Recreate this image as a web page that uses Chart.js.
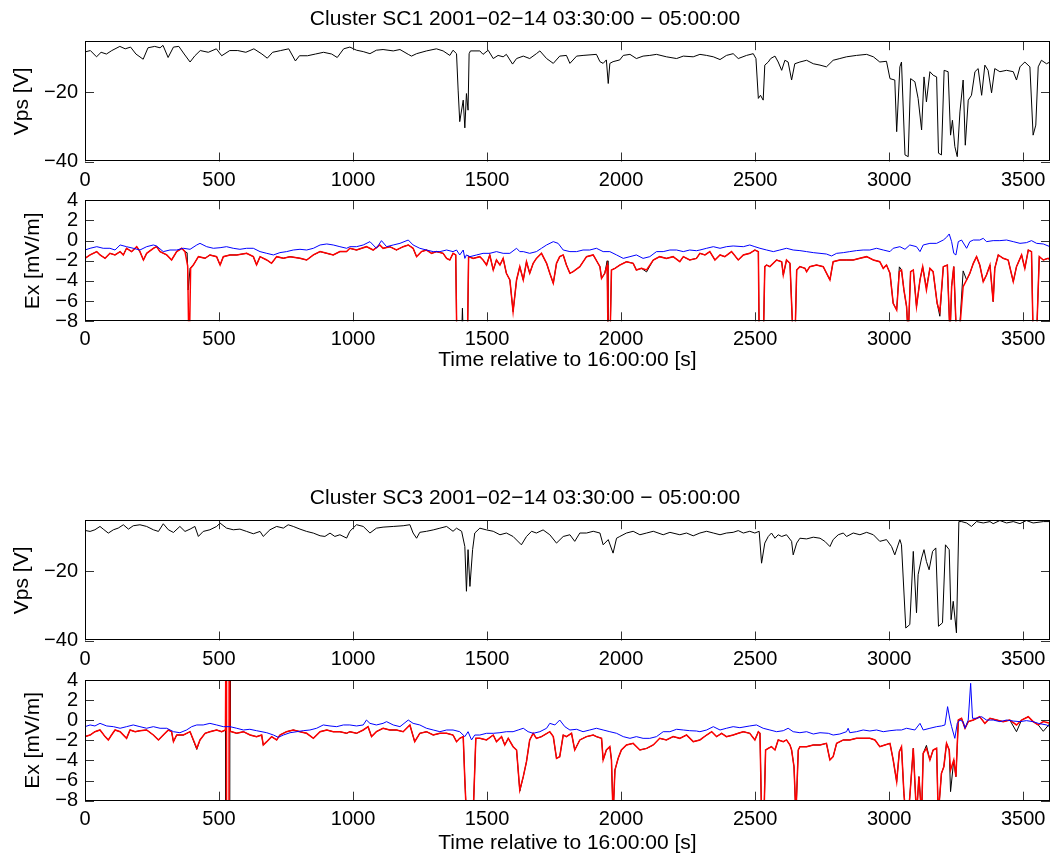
<!DOCTYPE html>
<html><head><meta charset="utf-8">
<script src="https://cdn.jsdelivr.net/npm/chart.js@4/dist/chart.umd.min.js"></script>
<style>
html,body{margin:0;padding:0;background:#fff;}
body{width:1052px;height:858px;position:relative;overflow:hidden;}
canvas{position:absolute;left:0;}
</style></head>
<body>
<canvas id="p1" width="1052" height="195" style="top:0px"></canvas>
<canvas id="p2" width="1052" height="190" style="top:190px"></canvas>
<canvas id="p3" width="1052" height="195" style="top:479px"></canvas>
<canvas id="p4" width="1052" height="188" style="top:670px"></canvas>
<script>
// ---------------- data ----------------
const titleSC1 = "Cluster SC1 2001\u221202\u221214 03:30:00 \u2212 05:00:00";
const titleSC3 = "Cluster SC3 2001\u221202\u221214 03:30:00 \u2212 05:00:00";
const xLabel = "Time relative to 16:00:00 [s]";
const vpsLabel = "Vps [V]";
const exLabel = "Ex [mV/m]";
const xTicks = [0, 500, 1000, 1500, 2000, 2500, 3000, 3500];
const vpsTicks = [-40, -20];
const exTicks = [-8, -6, -4, -2, 0, 2, 4];

// SC1 spacecraft potential [t, V]
const sc1Vps = [[0,-8.4],[20,-8.0],[43,-9.8],[60,-8.5],[80,-9.0],[100,-8.0],[130,-6.8],[150,-7.5],[170,-7.0],[190,-9.0],[217,-10.5],[235,-7.2],[260,-6.8],[280,-7.2],[291,-6.5],[310,-10.0],[330,-7.0],[350,-6.8],[370,-9.0],[392,-11.3],[410,-9.5],[430,-8.0],[460,-8.5],[490,-7.5],[510,-9.5],[540,-8.0],[570,-8.0],[600,-8.5],[630,-7.5],[660,-9.0],[680,-10.2],[700,-8.5],[730,-8.0],[760,-7.5],[785,-11.0],[800,-9.5],[830,-9.5],[860,-9.0],[890,-8.5],[920,-9.0],[941,-10.0],[965,-7.5],[988,-7.0],
[1013,-7.9],[1038,-8.3],[1063,-8.9],[1087,-7.9],[1112,-7.7],[1150,-8.1],[1175,-7.7],[1206,-9.1],[1218,-9.6],[1237,-8.9],[1274,-8.1],[1311,-7.5],[1336,-8.1],[1361,-9.4],[1373,-7.9],[1386,-8.9],[1392,-19.4],[1398,-28.5],[1411,-22.3],[1417,-30.3],[1423,-20.4],[1429,-25.2],[1433,-8.9],[1438,-8.1],[1473,-8.1],[1485,-9.1],[1504,-7.9],[1523,-10.3],[1541,-9.4],[1560,-9.8],[1572,-9.1],[1595,-11.9],[1610,-10.3],[1635,-9.6],[1659,-10.3],[1684,-8.9],[1697,-8.1],[1722,-10.3],[1747,-11.7],[1771,-9.6],[1796,-9.4],[1809,-11.7],[1834,-9.6],[1858,-9.4],[1908,-9.1],[1921,-11.2],[1933,-11.7],[1945,-10.7],[1952,-17.5],[1958,-11.7],[1970,-11.2],[1995,-10.7],[2008,-9.4],[2033,-9.1],[2057,-10.3],[2082,-9.6],[2107,-9.4],[2132,-9.1],[2169,-9.8],[2207,-10.3],[2232,-9.6],[2269,-9.8],[2294,-9.1],
[2319,-9.4],[2344,-9.8],[2369,-10.6],[2393,-9.4],[2418,-8.9],[2437,-10.3],[2468,-9.4],[2493,-8.9],[2503,-10.3],[2512,-21.8],[2520,-20.9],[2530,-22.3],[2536,-12.2],[2549,-11.3],[2558,-10.3],[2574,-9.6],[2586,-11.3],[2599,-13.7],[2611,-10.8],[2623,-11.3],[2636,-16.5],[2648,-11.8],[2667,-11.3],[2692,-10.8],[2717,-11.8],[2742,-12.2],[2766,-12.7],[2791,-10.8],[2816,-10.3],[2841,-9.8],[2878,-9.4],[2916,-9.1],[2941,-9.8],[2965,-11.3],[2990,-11.1],[3003,-16.1],[3021,-16.5],[3028,-31.4],[3040,-12.7],[3046,-11.3],[3059,-38.1],[3071,-38.6],[3080,-16.1],[3096,-17.0],[3108,-21.8],[3121,-30.9],[3130,-15.6],[3139,-22.8],[3152,-14.1],[3164,-15.1],[3177,-15.6],[3184,-37.6],[3195,-38.1],[3205,-13.7],[3220,-14.1],[3229,-32.4],[3236,-28.1],[3245,-35.7],[3254,-38.6],[3264,-25.7],[3276,-16.5],[3284,-35.3],[3295,-22.3],[3307,-20.9],[3320,-14.1],[3332,-13.2],[3345,-20.9],[3357,-12.2],[3369,-13.7],[3382,-20.2],[3394,-13.2],[3413,-14.1],[3438,-13.7],[3463,-14.1],[3475,-16.5],[3488,-12.7],[3506,-11.3],[3525,-12.7],[3537,-32.4],[3547,-29.5],[3556,-12.7],[3568,-10.8],[3587,-11.8],[3600,-11.3]];

// SC1 Ex: black, red, blue [t, mV/m]
const sc1ExRed = [[0,-1.75],[19,-1.42],[44,-1.09],[56,-1.42],[75,-1.75],[93,-1.26],[112,-1.42],[131,-1.09],[143,-1.42],[155,-0.76],[174,-1.09],[193,-0.6],[205,-1.09],[218,-1.92],[230,-1.26],[255,-0.76],[267,-0.6],[280,-1.09],[305,-1.42],[323,-1.92],[342,-1.09],[361,-0.76],[373,-1.09],[383,-2.5],[387,-9.5],[390,-9.5],[394,-2.75],[404,-2.42],[423,-1.59],[448,-1.75],[466,-1.42],[491,-1.59],[504,-2.42],[516,-1.59],[541,-1.42],[566,-1.42],[603,-1.26],[628,-1.59],[640,-2.4],[653,-1.59],[678,-1.92],[696,-2.25],[715,-1.59],[740,-1.75],[765,-1.59],[802,-1.75],[827,-1.92],[852,-1.42],[877,-1.09],[902,-1.26],[926,-1.42],[951,-1.09],[976,-1.09],
[988,-0.76],[1013,-0.93],[1032,-0.76],[1050,-0.6],[1075,-0.93],[1100,-0.43],[1112,-0.76],[1137,-0.6],[1162,-0.93],[1187,-0.6],[1206,-0.43],[1224,-0.76],[1237,-1.59],[1255,-1.09],[1274,-0.93],[1293,-1.26],[1311,-1.09],[1336,-1.26],[1349,-1.76],[1361,-1.92],[1373,-1.26],[1383,-1.42],[1387,-9.5],[1427,-9.5],[1431,-1.59],[1448,-1.76],[1473,-1.59],[1485,-1.92],[1498,-2.42],[1510,-1.42],[1523,-2.91],[1535,-1.92],[1548,-2.42],[1560,-1.76],[1572,-3.24],[1585,-3.9],[1597,-7.04],[1610,-3.9],[1622,-2.58],[1635,-3.9],[1647,-2.09],[1659,-3.24],[1672,-2.25],[1684,-1.76],[1703,-1.26],[1722,-2.25],[1734,-3.24],[1747,-4.23],[1759,-2.25],[1771,-1.59],[1784,-1.42],[1796,-2.42],[1809,-3.24],[1821,-3.08],[1846,-2.58],[1871,-1.59],[1896,-1.42],[1921,-2.58],[1927,-3.74],[1939,-3.24],[1948,-2.42],[1951,-9.5],[1959,-9.5],[1964,-2.91],[1977,-2.75],[1995,-2.42],[2020,-2.09],[2045,-2.25],[2057,-2.91],[2076,-2.75],[2095,-2.91],[2120,-1.92],[2144,-1.59],[2169,-1.76],[2194,-1.59],[2219,-2.09],[2232,-1.59],[2256,-1.92],[2281,-1.76],
[2294,-1.26],[2313,-1.42],[2331,-1.09],[2350,-1.92],[2369,-1.42],[2387,-1.59],[2412,-1.09],[2437,-1.92],[2456,-1.42],[2480,-1.26],[2499,-0.93],[2512,-1.09],[2515,-9.5],[2531,-9.5],[2536,-2.58],[2543,-2.42],[2555,-2.58],[2580,-1.92],[2599,-2.09],[2605,-3.41],[2617,-1.92],[2630,-2.25],[2641,-9.5],[2649,-9.5],[2655,-2.91],[2667,-2.58],[2686,-2.75],[2692,-3.08],[2704,-2.58],[2729,-2.42],[2754,-2.58],[2779,-3.9],[2791,-2.09],[2816,-1.92],[2841,-1.92],[2866,-1.92],[2891,-1.75],[2916,-1.59],[2941,-1.92],[2965,-2.09],[2978,-2.75],[2990,-2.42],[3003,-3.24],[3015,-6.22],[3028,-6.88],[3038,-3.08],[3046,-2.91],[3055,-4.89],[3065,-6.55],[3071,-9.5],[3080,-3.08],[3090,-2.91],[3102,-6.55],[3115,-3.9],[3125,-2.58],[3139,-4.89],[3152,-2.75],[3164,-3.08],[3179,-6.22],[3189,-7.04],[3202,-2.58],[3217,-2.42],[3227,-9.5],[3233,-4.56],[3241,-2.58],[3251,-9.5],[3261,-9.5],[3276,-4.56],[3289,-3.9],[3301,-3.24],[3314,-2.25],[3326,-1.59],[3338,-2.42],[3351,-4.07],[3363,-3.41],[3376,-2.42],[3388,-6.05],[3394,-2.75],[3407,-1.42],[3425,-1.75],[3444,-1.92],[3463,-4.07],[3475,-2.58],[3494,-1.42],[3506,-2.75],[3519,-0.93],[3531,-1.09],[3537,-9.5],[3550,-9.5],[3560,-1.59],[3575,-1.92],[3593,-1.75],[3600,-1.92]];

const sc1ExBlack = [[0,-1.75],[19,-1.42],[44,-1.09],[56,-1.42],[75,-1.75],[93,-1.26],[112,-1.42],[131,-1.09],[143,-1.42],[155,-0.76],[174,-1.09],[193,-0.6],[205,-1.09],[218,-1.92],[230,-1.26],[255,-0.76],[267,-0.6],[280,-1.09],[305,-1.42],[323,-1.92],[342,-1.09],[361,-0.76],[373,-1.09],[381,-1.2],[385,-4.9],[392,-2.75],[404,-2.42],[423,-1.59],[448,-1.75],[466,-1.42],[491,-1.59],[504,-2.42],[516,-1.59],[541,-1.42],[566,-1.42],[603,-1.26],[628,-1.59],[640,-2.4],[653,-1.59],[678,-1.92],[696,-2.25],[715,-1.59],[740,-1.75],[765,-1.59],[802,-1.75],[827,-1.92],[852,-1.42],[877,-1.09],[902,-1.26],[926,-1.42],[951,-1.09],[976,-1.09],
[988,-0.76],[1013,-0.93],[1032,-0.76],[1050,-0.6],[1075,-0.93],[1100,-0.43],[1112,-0.76],[1137,-0.6],[1162,-0.93],[1187,-0.6],[1206,-0.43],[1224,-0.76],[1237,-1.59],[1255,-1.09],[1274,-0.93],[1293,-1.26],[1311,-1.09],[1336,-1.26],[1349,-1.76],[1361,-1.92],[1373,-1.26],[1383,-1.42],[1387,-9.5],[1405,-9.5],[1408,-6.7],[1411,-9.5],[1427,-9.5],[1431,-1.59],[1448,-1.76],[1473,-1.59],[1485,-1.92],[1498,-2.42],[1510,-1.42],[1523,-2.91],[1535,-1.92],[1548,-2.42],[1560,-1.76],[1572,-3.24],[1585,-3.9],[1597,-7.04],[1610,-3.9],[1622,-2.58],[1635,-3.9],[1647,-2.09],[1659,-3.24],[1672,-2.25],[1684,-1.76],[1703,-1.26],[1722,-2.25],[1734,-3.24],[1747,-4.23],[1759,-2.25],[1771,-1.59],[1784,-1.42],[1796,-2.42],[1809,-3.24],[1821,-3.08],[1846,-2.58],[1871,-1.59],[1896,-1.42],[1921,-2.58],[1927,-3.74],[1939,-3.24],[1948,-2.0],[1951,-9.5],[1959,-9.5],[1964,-2.91],[1977,-2.75],[1995,-2.42],[2020,-2.09],[2045,-2.25],[2057,-2.91],[2076,-2.75],[2095,-3.1],[2120,-1.92],[2144,-1.59],[2169,-1.76],[2194,-1.59],[2219,-2.09],[2232,-1.59],[2256,-1.92],[2281,-1.76],
[2294,-1.26],[2313,-1.42],[2331,-1.09],[2350,-1.92],[2369,-1.42],[2387,-1.59],[2412,-1.09],[2437,-1.92],[2456,-1.42],[2480,-1.26],[2499,-0.93],[2512,-1.09],[2515,-9.5],[2531,-9.5],[2536,-2.58],[2543,-2.42],[2555,-2.58],[2580,-1.92],[2599,-2.09],[2605,-3.41],[2617,-1.92],[2630,-2.25],[2641,-9.5],[2649,-9.5],[2655,-2.91],[2667,-2.58],[2686,-2.75],[2692,-3.08],[2704,-2.58],[2729,-2.42],[2754,-2.58],[2779,-3.9],[2791,-2.09],[2816,-1.92],[2841,-1.92],[2866,-1.92],[2891,-1.75],[2916,-1.59],[2941,-1.92],[2965,-2.09],[2978,-2.75],[2990,-2.42],[3003,-3.24],[3015,-6.22],[3028,-6.88],[3038,-2.6],[3046,-2.91],[3055,-4.89],[3065,-6.55],[3071,-9.5],[3080,-3.08],[3090,-2.91],[3102,-6.55],[3115,-3.9],[3125,-2.58],[3139,-4.7],[3152,-2.75],[3164,-3.08],[3179,-6.22],[3189,-7.5],[3202,-2.58],[3217,-2.42],[3227,-9.5],[3233,-4.56],[3241,-2.58],[3251,-9.5],[3261,-9.5],[3276,-3.0],[3289,-3.9],[3301,-3.24],[3314,-2.25],[3326,-1.59],[3338,-2.42],[3351,-4.07],[3363,-3.41],[3376,-2.42],[3388,-6.05],[3394,-2.75],[3407,-1.42],[3425,-1.75],[3444,-1.92],[3463,-4.07],[3475,-2.58],[3494,-1.42],[3506,-2.75],[3519,-0.93],[3531,-1.09],[3537,-9.5],[3550,-9.5],[3560,-1.59],[3575,-1.92],[3593,-1.75],[3600,-1.92]];

const sc1ExBlue = [[0,-0.93],[19,-0.76],[44,-0.6],[68,-0.76],[93,-0.76],[112,-0.93],[131,-0.43],[155,-0.6],[180,-0.76],[205,-0.93],[230,-0.6],[255,-0.43],[267,-0.53],[292,-1.09],[317,-0.93],[342,-0.93],[367,-0.76],[392,-0.86],[417,-0.43],[429,-0.27],[454,-0.6],[479,-0.76],[504,-0.7],[528,-0.6],[553,-0.76],[578,-0.86],[603,-0.76],[628,-0.76],[653,-1.09],[678,-1.26],[703,-1.42],[727,-1.19],[752,-1.09],[777,-0.93],[802,-0.86],[827,-0.93],[852,-0.76],[877,-0.43],[902,-0.33],[926,-0.43],[951,-0.6],[976,-0.76],
[988,-0.6],[1013,-0.6],[1038,-0.43],[1063,-0.1],[1087,-0.76],[1106,0.0],[1125,-0.6],[1150,-0.43],[1175,-0.27],[1206,0.06],[1224,-0.43],[1249,-0.76],[1274,-0.93],[1299,-1.09],[1324,-1.09],[1349,-0.93],[1373,-1.09],[1386,-0.93],[1398,-1.42],[1411,-0.93],[1417,-1.76],[1423,-1.42],[1436,-1.59],[1461,-1.42],[1485,-1.26],[1510,-1.26],[1535,-1.09],[1560,-1.26],[1585,-1.26],[1610,-0.76],[1622,-1.09],[1635,-1.09],[1659,-1.26],[1684,-1.09],[1703,-0.76],[1722,-0.43],[1747,-0.1],[1765,-0.27],[1784,-0.93],[1809,-1.09],[1834,-1.09],[1858,-0.93],[1883,-0.93],[1908,-0.76],[1933,-1.09],[1958,-1.09],[1983,-1.42],[2008,-1.76],[2033,-1.59],[2057,-1.42],[2082,-1.76],[2107,-1.59],[2132,-1.09],[2157,-1.09],[2182,-0.93],[2207,-0.93],[2232,-1.09],[2256,-0.93],[2281,-1.0],
[2294,-0.93],[2319,-0.76],[2344,-0.6],[2369,-0.76],[2393,-0.6],[2418,-0.53],[2456,-0.6],[2480,-0.43],[2499,-0.6],[2518,-0.76],[2543,-0.93],[2568,-1.09],[2592,-0.93],[2617,-0.76],[2642,-0.93],[2667,-0.99],[2692,-1.09],[2717,-1.19],[2742,-1.26],[2766,-1.33],[2785,-1.52],[2804,-1.26],[2829,-1.19],[2853,-1.09],[2878,-0.99],[2903,-0.93],[2928,-0.93],[2953,-0.76],[2978,-0.93],[3003,-1.09],[3015,-0.76],[3040,-0.6],[3059,-0.86],[3077,-0.43],[3102,-0.6],[3115,-1.09],[3127,-0.43],[3152,-0.27],[3177,-0.27],[3202,0.06],[3214,0.33],[3224,0.66],[3233,-0.1],[3241,-1.26],[3249,-1.42],[3258,-0.1],[3270,0.06],[3289,-0.76],[3301,-0.1],[3314,0.06],[3338,0.06],[3351,0.23],[3363,-0.1],[3388,0.0],[3413,0.0],[3438,0.06],[3463,-0.1],[3488,-0.27],[3512,-0.2],[3531,0.0],[3550,-0.27],[3575,-0.33],[3600,-0.6]];

// SC3 spacecraft potential [t, V]
const sc3Vps = [[0,-8.25],[19,-8.54],[37,-8.06],[56,-7.1],[68,-7.87],[87,-9.02],[106,-8.06],[124,-7.58],[143,-6.62],[162,-7.87],[180,-6.9],[205,-6.62],[230,-7.1],[255,-8.06],[274,-8.54],[292,-6.33],[311,-8.06],[330,-8.83],[354,-7.1],[373,-8.54],[392,-7.87],[410,-7.1],[423,-9.98],[441,-8.54],[466,-8.06],[491,-7.1],[504,-6.14],[528,-7.58],[553,-8.06],[578,-7.87],[603,-8.54],[628,-9.21],[653,-8.54],[665,-9.98],[690,-8.06],[715,-7.1],[740,-7.58],[758,-6.62],[777,-7.1],[802,-7.87],[827,-8.54],[852,-9.02],[877,-9.79],[895,-9.98],[914,-9.02],[932,-9.98],[951,-9.5],[976,-10.46],
[988,-8.5],[1013,-6.6],[1038,-7.1],[1063,-9.0],[1087,-7.6],[1112,-7.3],[1150,-7.1],[1187,-6.9],[1212,-6.6],[1224,-9.0],[1237,-10.5],[1249,-8.8],[1274,-8.5],[1299,-8.1],[1324,-7.6],[1349,-7.1],[1373,-8.5],[1386,-7.6],[1405,-8.5],[1417,-12.9],[1423,-25.8],[1429,-13.8],[1436,-24.4],[1446,-13.8],[1454,-9.0],[1473,-7.6],[1498,-8.1],[1523,-8.5],[1548,-9.5],[1572,-9.0],[1597,-10.0],[1628,-12.4],[1647,-10.0],[1666,-8.5],[1684,-9.0],[1709,-8.1],[1734,-9.5],[1759,-11.9],[1784,-10.0],[1809,-9.5],[1827,-11.4],[1846,-9.0],[1871,-9.0],[1896,-8.5],[1921,-9.0],[1933,-12.4],[1952,-10.9],[1970,-14.8],[1983,-10.5],[1995,-10.0],[2020,-9.0],[2045,-8.5],[2070,-9.5],[2095,-9.0],[2120,-8.5],[2157,-9.5],[2182,-8.8],[2219,-9.5],[2244,-9.0],[2269,-9.8],[2294,-9.0],
[2319,-8.5],[2344,-9.0],[2369,-9.5],[2393,-9.0],[2418,-8.8],[2437,-8.3],[2456,-9.0],[2480,-8.5],[2499,-9.0],[2515,-8.5],[2524,-17.7],[2536,-11.9],[2549,-10.0],[2561,-9.0],[2574,-10.5],[2586,-9.5],[2599,-10.0],[2617,-9.5],[2636,-11.4],[2642,-15.3],[2655,-11.9],[2667,-10.5],[2692,-10.7],[2717,-10.2],[2742,-10.5],[2760,-11.4],[2779,-12.9],[2791,-10.9],[2810,-9.5],[2829,-9.0],[2841,-10.0],[2866,-9.0],[2891,-9.5],[2916,-8.8],[2941,-9.5],[2965,-11.4],[2990,-10.9],[3009,-12.9],[3021,-15.3],[3040,-10.9],[3046,-12.4],[3062,-36.4],[3077,-35.4],[3090,-14.3],[3102,-32.0],[3108,-21.0],[3121,-16.2],[3130,-13.8],[3139,-17.2],[3149,-19.6],[3162,-14.3],[3174,-13.3],[3184,-35.9],[3199,-34.9],[3210,-12.4],[3224,-13.8],[3231,-34.0],[3239,-28.7],[3251,-37.8],[3260,-5.7],[3270,-5.7],[3289,-6.1],[3307,-7.1],[3326,-5.7],[3351,-6.1],[3376,-5.7],[3388,-6.3],[3413,-5.4],[3438,-6.1],[3463,-5.7],[3488,-6.3],[3512,-5.4],[3537,-6.1],[3575,-5.7],[3600,-5.7]];

// SC3 Ex: black, red, blue [t, mV/m]
const sc3ExRed = [[0,-1.63],[19,-1.47],[37,-1.14],[56,-0.97],[75,-1.63],[87,-1.96],[99,-1.47],[112,-0.97],[131,-1.14],[155,-1.8],[168,-0.97],[187,-1.14],[205,-1.04],[230,-0.97],[255,-1.47],[274,-1.96],[292,-1.47],[311,-0.97],[323,-1.14],[330,-2.13],[342,-1.47],[367,-1.47],[392,-1.14],[417,-2.79],[429,-1.96],[448,-1.3],[466,-1.14],[491,-0.97],[510,-1.14],[524,-0.97],[527,15],[528,-15],[537,-15],[538,15],[541,-1.1],[547,-1.14],[566,-1.3],[591,-1.14],[616,-1.47],[640,-1.63],[659,-1.47],[665,-2.46],[678,-2.13],[696,-1.63],[715,-1.96],[727,-1.47],[752,-1.14],[777,-0.97],[802,-1.14],[827,-1.3],[852,-1.8],[877,-1.14],[902,-0.97],[926,-1.14],[951,-1.14],[976,-1.3],
[988,-1.14],[1013,-1.3],[1038,-0.97],[1056,-0.64],[1069,-1.63],[1087,-1.14],[1112,-0.8],[1137,-0.97],[1162,-0.97],[1187,-1.14],[1212,-0.47],[1230,-2.13],[1249,-1.3],[1274,-1.14],[1299,-1.47],[1324,-1.3],[1349,-1.3],[1373,-1.47],[1386,-2.13],[1398,-1.8],[1411,-1.63],[1417,-5.94],[1423,-9.5],[1448,-9.5],[1458,-1.8],[1473,-1.8],[1498,-1.96],[1523,-1.47],[1535,-2.13],[1554,-1.63],[1566,-2.46],[1579,-1.8],[1597,-2.63],[1610,-2.96],[1622,-6.93],[1635,-5.61],[1647,-4.12],[1659,-1.96],[1672,-1.3],[1684,-1.8],[1703,-1.63],[1734,-1.14],[1747,-1.63],[1759,-3.79],[1771,-3.62],[1784,-1.47],[1796,-1.63],[1815,-1.3],[1827,-2.96],[1846,-1.96],[1871,-1.63],[1896,-1.47],[1908,-1.63],[1927,-1.8],[1933,-3.95],[1945,-2.96],[1958,-2.63],[1964,-3.95],[1970,-9.5],[1977,-4.95],[1989,-3.79],[2001,-2.96],[2020,-2.46],[2045,-2.3],[2070,-2.96],[2095,-2.8],[2120,-2.46],[2144,-1.8],[2169,-1.96],[2194,-1.63],[2219,-1.8],[2244,-1.47],[2269,-2.13],
[2294,-1.96],[2319,-1.47],[2338,-1.14],[2356,-1.63],[2375,-1.3],[2393,-1.63],[2418,-1.47],[2437,-1.3],[2456,-1.14],[2480,-1.3],[2499,-1.96],[2512,-1.14],[2518,-1.3],[2524,-9.5],[2533,-9.5],[2539,-2.96],[2549,-2.79],[2561,-2.63],[2574,-2.96],[2586,-1.96],[2605,-2.13],[2617,-1.96],[2630,-2.46],[2636,-2.96],[2645,-4.62],[2652,-9.5],[2661,-2.96],[2667,-2.63],[2692,-2.63],[2717,-2.46],[2742,-2.46],[2766,-2.3],[2779,-3.95],[2791,-3.62],[2804,-2.3],[2829,-1.96],[2853,-1.96],[2878,-1.8],[2903,-1.8],[2928,-1.8],[2947,-1.96],[2965,-2.63],[2984,-2.46],[3003,-2.3],[3015,-3.95],[3028,-6.11],[3038,-3.12],[3046,-2.63],[3055,-7.27],[3062,-9.5],[3071,-9.5],[3077,-7.6],[3090,-2.79],[3102,-9.5],[3111,-5.61],[3121,-9.5],[3127,-3.29],[3139,-2.79],[3152,-3.95],[3164,-2.96],[3177,-2.79],[3183,-9.5],[3195,-5.28],[3204,-4.62],[3214,-2.3],[3224,-2.96],[3229,-4.95],[3241,-3.95],[3249,-5.61],[3258,0.02],[3270,0.19],[3283,-0.8],[3295,-0.14],[3314,0.02],[3338,0.35],[3357,-0.31],[3376,0.19],[3401,0.02],[3425,-0.14],[3450,0.02],[3475,-0.47],[3494,0.02],[3519,0.35],[3537,-0.14],[3556,-0.47],[3575,-0.14],[3600,-0.31]];

const sc3ExBlack = [[0,-1.63],[19,-1.47],[37,-1.14],[56,-0.97],[75,-1.63],[87,-1.96],[99,-1.47],[112,-0.97],[131,-1.14],[155,-1.8],[168,-0.97],[187,-1.14],[205,-1.04],[230,-0.97],[255,-1.47],[274,-1.96],[292,-1.47],[311,-0.97],[323,-1.14],[330,-2.13],[342,-1.47],[367,-1.47],[392,-1.14],[417,-2.9],[429,-1.96],[448,-1.3],[466,-1.14],[491,-0.97],[510,-1.14],[524,-0.97],[526,-15],[540,-15],[541,15],[542,-1.1],[547,-1.14],[566,-1.3],[591,-1.14],[616,-1.47],[640,-1.63],[659,-1.47],[665,-2.46],[678,-2.13],[696,-1.63],[715,-1.96],[727,-1.47],[752,-1.14],[777,-0.97],[802,-1.14],[827,-1.3],[852,-1.8],[877,-1.14],[902,-0.97],[926,-1.14],[951,-1.14],[976,-1.3],
[988,-1.14],[1013,-1.3],[1038,-0.97],[1056,-0.64],[1069,-1.63],[1087,-1.14],[1112,-0.8],[1137,-0.97],[1162,-0.97],[1187,-1.14],[1212,-0.47],[1230,-2.13],[1249,-1.3],[1274,-1.14],[1299,-1.47],[1324,-1.3],[1349,-1.3],[1373,-1.47],[1386,-2.13],[1398,-1.8],[1411,-1.63],[1417,-5.94],[1423,-9.5],[1448,-9.5],[1458,-1.8],[1473,-1.8],[1498,-1.96],[1523,-1.47],[1535,-2.13],[1554,-1.63],[1566,-2.46],[1579,-1.8],[1597,-2.63],[1610,-2.96],[1622,-7.05],[1635,-5.61],[1647,-4.12],[1659,-1.96],[1672,-1.3],[1684,-1.8],[1703,-1.63],[1734,-1.14],[1747,-1.63],[1759,-3.79],[1771,-3.62],[1784,-1.47],[1796,-1.63],[1815,-1.3],[1827,-2.96],[1846,-1.96],[1871,-1.63],[1896,-1.47],[1908,-1.63],[1927,-1.8],[1933,-3.95],[1945,-2.96],[1958,-2.63],[1964,-3.95],[1970,-9.5],[1977,-4.95],[1989,-3.79],[2001,-2.96],[2020,-2.46],[2045,-2.3],[2070,-2.96],[2095,-2.8],[2120,-2.46],[2144,-1.8],[2169,-1.96],[2194,-1.63],[2219,-1.8],[2244,-1.47],[2269,-2.13],
[2294,-1.96],[2319,-1.47],[2338,-1.14],[2356,-1.63],[2375,-1.3],[2393,-1.63],[2418,-1.47],[2437,-1.3],[2456,-1.14],[2480,-1.3],[2499,-1.96],[2512,-1.14],[2518,-1.3],[2524,-9.5],[2533,-9.5],[2539,-2.96],[2549,-2.79],[2561,-2.63],[2574,-2.96],[2586,-1.96],[2605,-2.13],[2617,-1.96],[2630,-2.46],[2636,-2.96],[2645,-4.62],[2652,-9.5],[2661,-2.96],[2667,-2.63],[2692,-2.63],[2717,-2.46],[2742,-2.46],[2766,-2.3],[2779,-3.95],[2791,-3.62],[2804,-2.3],[2829,-1.96],[2853,-1.96],[2878,-1.8],[2903,-1.8],[2928,-1.8],[2947,-1.96],[2965,-2.63],[2984,-2.46],[3003,-2.3],[3015,-3.95],[3028,-6.11],[3038,-3.12],[3046,-2.63],[3055,-7.27],[3062,-9.5],[3071,-9.5],[3077,-7.6],[3090,-2.79],[3102,-9.5],[3111,-5.61],[3121,-9.5],[3127,-3.29],[3139,-2.5],[3152,-3.95],[3164,-2.96],[3177,-2.79],[3183,-9.5],[3195,-5.28],[3204,-4.62],[3214,-2.3],[3224,-2.96],[3229,-7.1],[3241,-3.95],[3249,-5.61],[3258,0.02],[3270,0.19],[3283,-0.8],[3295,-0.14],[3314,0.02],[3338,0.35],[3357,-0.31],[3376,0.19],[3401,0.02],[3425,-0.14],[3450,0.02],[3475,-1.14],[3494,0.02],[3519,0.35],[3537,-0.14],[3556,-0.47],[3575,-1.1],[3600,-0.31]];

const sc3ExBlue = [[0,-0.64],[19,-0.47],[37,-0.57],[56,-0.31],[81,-0.57],[106,-0.64],[131,-0.8],[155,-0.64],[180,-0.47],[205,-0.64],[230,-0.8],[255,-0.64],[280,-0.8],[305,-0.8],[330,-1.14],[354,-1.24],[379,-0.97],[398,-0.64],[417,-0.47],[441,-0.47],[466,-0.31],[491,-0.47],[516,-0.64],[541,-0.64],[566,-0.8],[591,-0.97],[615,-0.9],[640,-1.04],[678,-1.24],[703,-1.47],[721,-1.7],[740,-1.47],[765,-1.24],[790,-1.14],[814,-1.04],[839,-0.97],[864,-0.8],[889,-0.47],[914,-0.57],[939,-0.64],[964,-0.47],
[988,-0.47],[1013,-0.57],[1038,-0.47],[1050,0.02],[1063,-0.31],[1087,-0.47],[1112,-0.31],[1125,-0.14],[1150,-0.47],[1175,-0.64],[1206,0.02],[1224,-0.31],[1249,-0.47],[1274,-0.8],[1299,-0.97],[1324,-1.14],[1349,-0.97],[1373,-0.97],[1398,-1.14],[1417,-1.63],[1429,-1.14],[1442,-1.96],[1454,-1.47],[1473,-1.47],[1498,-1.3],[1523,-1.3],[1548,-1.24],[1572,-1.14],[1597,-1.14],[1616,-0.97],[1635,-0.8],[1653,-1.14],[1672,-1.3],[1697,-1.14],[1722,-0.8],[1734,-0.31],[1753,-0.47],[1771,0.02],[1790,-0.64],[1809,-0.97],[1834,-0.9],[1858,-1.14],[1883,-0.97],[1908,-0.8],[1933,-0.97],[1958,-1.14],[1983,-1.3],[2008,-1.63],[2033,-1.8],[2057,-1.63],[2082,-1.8],[2107,-1.8],[2132,-1.63],[2157,-1.14],[2182,-1.14],[2207,-0.9],[2232,-0.97],[2256,-1.04],[2281,-1.07],
[2294,-1.14],[2319,-0.97],[2344,-0.64],[2369,-0.97],[2393,-0.8],[2418,-0.64],[2443,-0.74],[2480,-0.57],[2505,-0.47],[2530,-0.8],[2555,-0.97],[2580,-1.14],[2605,-1.04],[2623,-0.8],[2642,-1.14],[2667,-1.24],[2692,-1.14],[2717,-1.37],[2742,-1.24],[2773,-1.3],[2791,-1.47],[2816,-1.37],[2841,-1.14],[2847,-0.8],[2853,-1.24],[2878,-1.14],[2903,-0.97],[2928,-1.07],[2953,-0.97],[2978,-1.14],[3003,-1.04],[3028,-0.97],[3046,-0.97],[3065,-0.8],[3096,-0.97],[3115,-0.31],[3127,-0.97],[3152,-0.8],[3177,-0.64],[3195,-0.57],[3208,-0.47],[3218,1.35],[3227,0.02],[3233,-0.64],[3245,-1.8],[3254,-0.31],[3264,0.02],[3276,-0.14],[3283,-0.8],[3295,0.02],[3304,3.67],[3311,0.19],[3326,0.19],[3345,0.35],[3363,0.02],[3388,0.02],[3413,-0.14],[3438,0.02],[3463,-0.08],[3488,-0.14],[3512,-0.04],[3537,-0.14],[3556,-0.31],[3587,-0.47],[3600,-0.64]];

// ---------------- rendering ----------------
const FONT = '"Liberation Sans", Arial, Helvetica, sans-serif';
const toXY = arr => arr.map(p => ({x: p[0], y: p[1]}));
const minusFmt = v => String(v).replace('-', '\u2212');

const boxPlugin = {
  id: 'matlabBox',
  afterDatasetsDraw(chart) {
    const {ctx, chartArea: a, scales: {x, y}} = chart;
    const L = 9;
    ctx.save();
    ctx.lineWidth = 1;
    ctx.strokeStyle = '#333';
    ctx.beginPath();
    x.ticks.forEach(t => {
      const px = Math.round(x.getPixelForValue(t.value)) + 0.5;
      ctx.moveTo(px, a.bottom); ctx.lineTo(px, a.bottom - L);
      ctx.moveTo(px, a.top); ctx.lineTo(px, a.top + L);
    });
    y.ticks.forEach(t => {
      const py = Math.round(y.getPixelForValue(t.value)) + 0.5;
      ctx.moveTo(a.left, py); ctx.lineTo(a.left + L, py);
      ctx.moveTo(a.right, py); ctx.lineTo(a.right - L, py);
    });
    ctx.stroke();
    ctx.strokeStyle = '#000';
    ctx.strokeRect(Math.round(a.left) + 0.5, Math.round(a.top) + 0.5,
                   Math.round(a.right - a.left) - 1, Math.round(a.bottom - a.top) - 1);
    ctx.restore();
  }
};

function makePanel(id, cfg) {
  // Chart.js draws dataset 0 last (on top), so series are listed top-most first
  const datasets = cfg.series.map(s => ({
    data: toXY(s.data), borderColor: s.color, borderWidth: s.width || 1,
    pointRadius: 0, tension: 0, fill: false
  }));
  return new Chart(document.getElementById(id), {
    type: 'line',
    data: {datasets},
    options: {
      responsive: false, animation: false, devicePixelRatio: 1,
      layout: {padding: {left: 0, right: 2, top: cfg.padTop, bottom: 0}},
      plugins: {
        legend: {display: false}, tooltip: {enabled: false},
        title: cfg.title ? {display: true, text: cfg.title, color: '#000',
          font: {family: FONT, size: 21, weight: 'normal'},
          padding: {top: 7, bottom: 9}} : {display: false}
      },
      scales: {
        x: {
          type: 'linear', min: 0, max: 3600,
          afterBuildTicks: s => { s.ticks = xTicks.map(v => ({value: v})); },
          afterFit: s => { s.height = cfg.xHeight; s.paddingLeft = 0; s.paddingRight = 0; },
          grid: {display: false, drawTicks: false}, border: {display: false},
          ticks: {color: '#000', padding: 6.5, maxRotation: 0, autoSkip: false,
            font: {family: FONT, size: 20}, callback: v => minusFmt(v)},
          title: cfg.xTitle ? {display: true, text: cfg.xTitle, color: '#000',
            font: {family: FONT, size: 21}, padding: {top: 0, bottom: cfg.xTitlePad}} : {display: false}
        },
        y: {
          type: 'linear', min: cfg.yMin, max: cfg.yMax,
          afterBuildTicks: s => { s.ticks = cfg.yTicks.map(v => ({value: v})); },
          afterFit: s => { s.width = 85; s.paddingTop = 0; s.paddingBottom = 0; },
          grid: {display: false, drawTicks: false}, border: {display: false},
          ticks: {color: '#000', padding: 7, autoSkip: false,
            font: {family: FONT, size: 20}, callback: v => minusFmt(v)},
          title: {display: true, text: cfg.yTitle, color: '#000',
            font: {family: FONT, size: 21}, padding: {top: cfg.yTitlePad, bottom: 0}}
        }
      }
    },
    plugins: [boxPlugin]
  });
}

makePanel('p1', {title: titleSC1, padTop: 0, xHeight: 33.5, yMin: -40, yMax: -5.3,
  yTicks: vpsTicks, yTitle: vpsLabel, yTitlePad: 9.4,
  series: [{data: sc1Vps, color: '#000'}]});
makePanel('p2', {padTop: 10.3, xHeight: 58.7, yMin: -8, yMax: 4,
  yTicks: exTicks, yTitle: exLabel, yTitlePad: 20.4, xTitle: xLabel, xTitlePad: 7.4,
  series: [{data: sc1ExBlue, color: '#0000ff'}, {data: sc1ExRed, color: '#ff0000', width: 1.5},
           {data: sc1ExBlack, color: '#000'}]});
makePanel('p3', {title: titleSC3, padTop: 0, xHeight: 33.5, yMin: -40, yMax: -5.3,
  yTicks: vpsTicks, yTitle: vpsLabel, yTitlePad: 9.4,
  series: [{data: sc3Vps, color: '#000'}]});
makePanel('p4', {padTop: 10, xHeight: 57.3, yMin: -8, yMax: 4,
  yTicks: exTicks, yTitle: exLabel, yTitlePad: 20.4, xTitle: xLabel, xTitlePad: 2.4,
  series: [{data: sc3ExBlue, color: '#0000ff'}, {data: sc3ExRed, color: '#ff0000', width: 1.5},
           {data: sc3ExBlack, color: '#000'}]});
</script>
</body></html>
